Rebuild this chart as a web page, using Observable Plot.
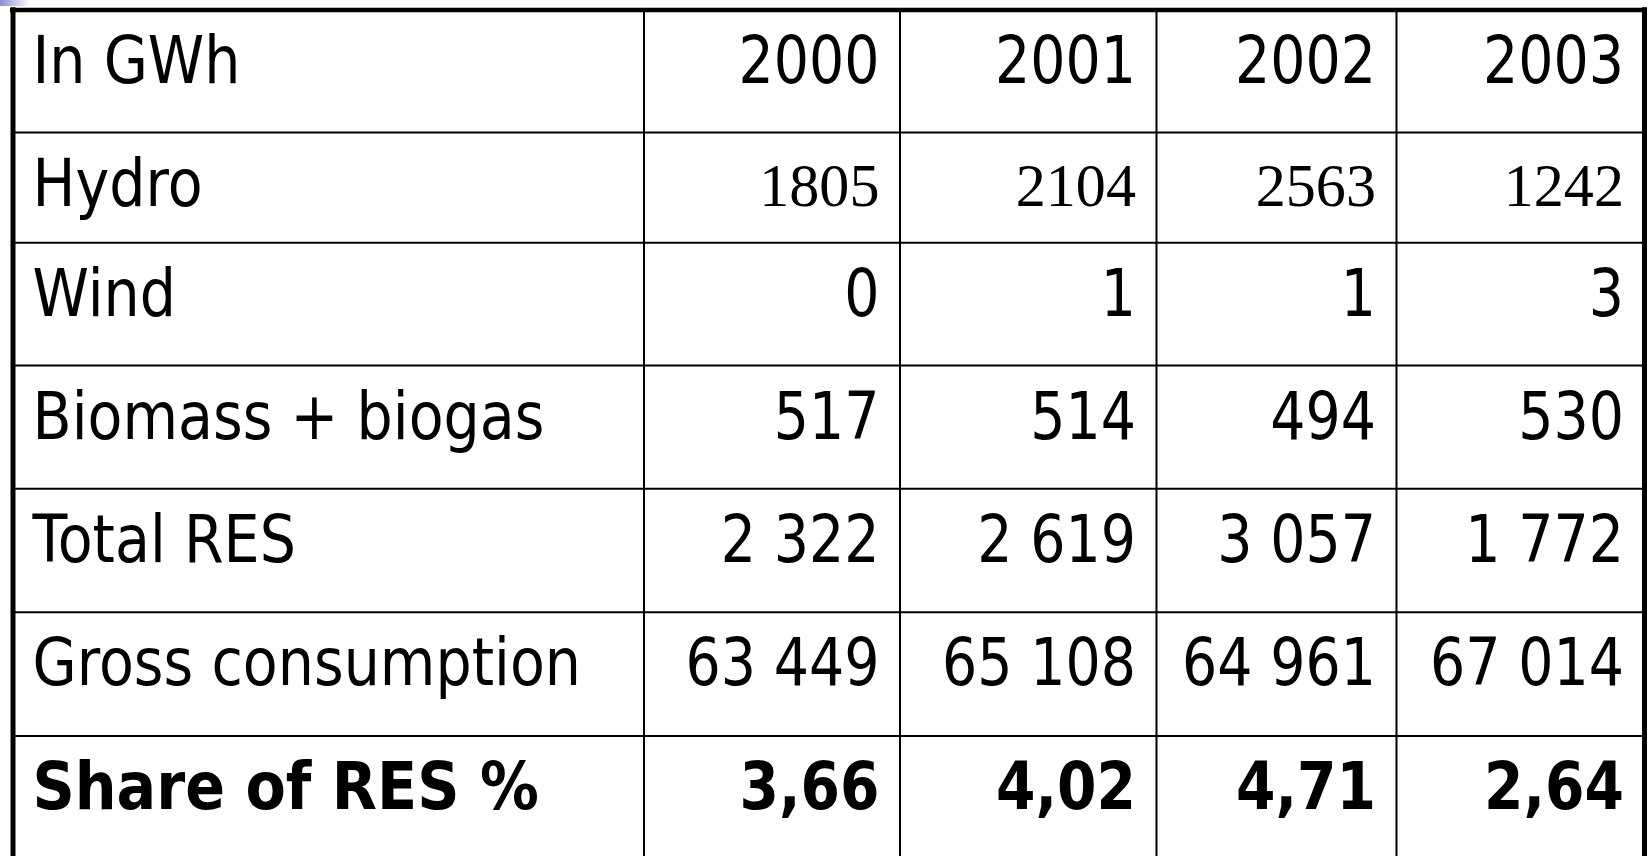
<!DOCTYPE html>
<html><head><meta charset="utf-8">
<script src="https://cdn.jsdelivr.net/npm/d3@7"></script>
<script src="https://cdn.jsdelivr.net/npm/@observablehq/plot@0.6"></script>
<style>html,body{margin:0;padding:0;background:#fff;overflow:hidden}</style>
</head><body><div id="chart"></div>
<script>
// ---- data ----
const unitLabel = "In GWh";
const years = ["2000", "2001", "2002", "2003"];
const rowLabels = ["Hydro", "Wind", "Biomass + biogas", "Total RES", "Gross consumption", "Share of RES %"];
const hydro = [1805, 2104, 2563, 1242];
const wind = [0, 1, 1, 3];
const biomass = [517, 514, 494, 530];
const totalRES = [2322, 2619, 3057, 1772];
const grossConsumption = [63449, 65108, 64961, 67014];
const shareRES = [3.66, 4.02, 4.71, 2.64];

// ---- layout (pixels) ----
const W = 1651, H = 856;
const colEdges = [12.5, 643.5, 899.5, 1156, 1396, 1644];
const rowEdges = [9.5, 132, 242.3, 365, 488.3, 611.7, 735.5, 900];
const padLeft = 19.5, padRight = 20.5, baseline = 73;
const fsSans = 66, fsSerif = 62;

const loc = d3.formatLocale({decimal: ",", thousands: " ", grouping: [3], currency: ["", ""]});
const fmtPlain = d => String(d);
const fmtGroup = loc.format(",");
const fmtShare = loc.format(".2f");

const series = [
  {values: hydro, fmt: fmtPlain, kind: "serif"},
  {values: wind, fmt: fmtPlain, kind: "sans"},
  {values: biomass, fmt: fmtPlain, kind: "sans"},
  {values: totalRES, fmt: fmtGroup, kind: "sans"},
  {values: grossConsumption, fmt: fmtGroup, kind: "sans"},
  {values: shareRES, fmt: fmtShare, kind: "bold"}
];

const midY = (r, fs) => rowEdges[r] + baseline - 0.32 * fs;
const rightX = c => colEdges[c + 1] - padRight;
const leftX = colEdges[0] + padLeft;

const labels = [{x: leftX, y: midY(0, fsSans), text: unitLabel, kind: "sans"}];
rowLabels.forEach((l, i) => labels.push({x: leftX, y: midY(i + 1, fsSans), text: l, kind: series[i].kind === "bold" ? "bold" : "sans"}));

const nums = [];
years.forEach((y, c) => nums.push({x: rightX(c + 1), y: midY(0, fsSans), text: y, kind: "sans"}));
series.forEach((s, r) => s.values.forEach((v, c) => {
  const fs = s.kind === "serif" ? fsSerif : fsSans;
  nums.push({x: rightX(c + 1), y: midY(r + 1, fs), text: s.fmt(v), kind: s.kind});
}));

const hLines = rowEdges.slice(1, 7).map(y => ({y, x1: colEdges[0], x2: colEdges[5]}));
const vLines = colEdges.slice(1, 5).map(x => ({x, y1: rowEdges[0], y2: H}));
const deco = [{x1: 0, x2: 30, y1: 0, y2: 6}];

const sansFam = "'DejaVu Sans', Tahoma, Verdana, sans-serif";
const serifFam = "'Liberation Serif', 'Times New Roman', serif";

const chart = Plot.plot({
  width: W, height: H,
  margin: 0,
  x: {type: "identity", axis: null},
  y: {type: "identity", axis: null},
  marks: [
    Plot.rect(deco, {x1: "x1", x2: "x2", y1: "y1", y2: "y2", fill: "url(#tlgrad)"}),
    Plot.ruleY(hLines, {y: "y", x1: "x1", x2: "x2", stroke: "#000", strokeWidth: 2}),
    Plot.ruleX(vLines, {x: "x", y1: "y1", y2: "y2", stroke: "#000", strokeWidth: 2}),
    // outer border (top, left, right)
    Plot.ruleY([{y: rowEdges[0], x1: colEdges[0] - 2.5, x2: colEdges[5] + 2.5}], {y: "y", x1: "x1", x2: "x2", stroke: "#000", strokeWidth: 4.5}),
    Plot.ruleX([{x: colEdges[0], y1: rowEdges[0] - 2.2, y2: H}, {x: colEdges[5], y1: rowEdges[0] - 2.2, y2: H}], {x: "x", y1: "y1", y2: "y2", stroke: "#000", strokeWidth: 5}),
    Plot.text(labels.filter(d => d.kind === "sans"), {x: "x", y: "y", text: "text", textAnchor: "start", fontSize: fsSans, fontFamily: sansFam, fill: "#000", className: "lab"}),
    Plot.text(labels.filter(d => d.kind === "bold"), {x: "x", y: "y", text: "text", textAnchor: "start", fontSize: fsSans, fontFamily: sansFam, fontWeight: "bold", fill: "#000", className: "lab"}),
    Plot.text(nums.filter(d => d.kind === "sans"), {x: "x", y: "y", text: "text", textAnchor: "end", fontSize: fsSans, fontFamily: sansFam, fill: "#000"}),
    Plot.text(nums.filter(d => d.kind === "bold"), {x: "x", y: "y", text: "text", textAnchor: "end", fontSize: fsSans, fontFamily: sansFam, fontWeight: "bold", fill: "#000"}),
    Plot.text(nums.filter(d => d.kind === "serif"), {x: "x", y: "y", text: "text", textAnchor: "end", fontSize: fsSerif, fontFamily: serifFam, fill: "#000"})
  ]
});

// gradient for the small corner decoration
const defs = d3.select(chart).insert("defs", ":first-child");
const grad = defs.append("linearGradient").attr("id", "tlgrad").attr("x1", "0").attr("x2", "1").attr("y1", "0").attr("y2", "0");
grad.append("stop").attr("offset", "0").attr("stop-color", "#8c8cd4");
grad.append("stop").attr("offset", "1").attr("stop-color", "#ffffff");

// horizontal glyph compression (Tahoma-like narrow glyphs)
chart.querySelectorAll("text").forEach(t => {
  const g = t.parentNode;
  const fam = (t.getAttribute("font-family") || g.getAttribute("font-family") || "");
  const wt = (t.getAttribute("font-weight") || g.getAttribute("font-weight") || "");
  const anchor = (t.getAttribute("text-anchor") || g.getAttribute("text-anchor") || "start");
  const isLabel = anchor === "start";
  let sx;
  if (fam.includes("Serif")) sx = 0.97;
  else if (wt === "bold") sx = isLabel ? 0.89 : 0.86;
  else sx = isLabel ? 0.865 : 0.84;
  const tr = t.getAttribute("transform");
  if (tr && tr.includes("translate")) {
    t.setAttribute("transform", `${tr} scale(${sx},1)`);
  } else {
    const x = +(t.getAttribute("x") || 0);
    t.setAttribute("transform", `${tr || ""} translate(${x},0) scale(${sx},1) translate(${-x},0)`);
  }
});
document.getElementById("chart").appendChild(chart);
</script>
</body></html>
